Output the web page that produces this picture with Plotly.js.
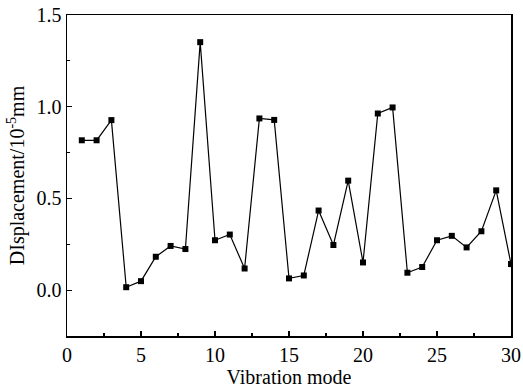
<!DOCTYPE html>
<html><head><meta charset="utf-8">
<script src="https://cdn.plot.ly/plotly-3.0.1.min.js"></script>
<style>
html,body{margin:0;padding:0;background:#fff;}
#chart{width:523px;height:389px;}
#chart .xtick text, #chart .ytick text{font-family:'Liberation Serif', serif !important;font-size:20px !important;fill:#000 !important;}
</style>
</head><body><div id="chart"></div>
<script>
const modes = [1,2,3,4,5,6,7,8,9,10,11,12,13,14,15,16,17,18,19,20,21,22,23,24,25,26,27,28,29,30];
const displacement = [0.817,0.817,0.927,0.016,0.049,0.182,0.241,0.224,1.352,0.272,0.303,0.118,0.936,0.928,0.064,0.080,0.434,0.246,0.597,0.151,0.963,0.996,0.095,0.126,0.272,0.296,0.233,0.321,0.544,0.142];
const xTickStep = 5;
const yTickStep = 0.5;
const serif = 'Liberation Serif';

Plotly.newPlot('chart', [{
  x: modes, y: displacement, type:'scatter', mode:'lines+markers',
  line:{color:'#000', width:1.2},
  marker:{symbol:'square', size:6, color:'#000'}
}], {
  width:523, height:389,
  margin:{l:67, r:12, t:15, b:53},
  paper_bgcolor:'#fff', plot_bgcolor:'#fff',
  showlegend:false,
  font: {family:serif, size:20, color:'#000'},
  xaxis:{
    range:[0,30], tick0:0, dtick:xTickStep, ticks:'inside', ticklen:5, tickwidth:1.2, tickcolor:'#000',
    showline:true, linecolor:'#000', linewidth:1.5, mirror:true, showgrid:false, zeroline:false,
    minor:{ticks:'inside', ticklen:3, dtick:2.5, tickcolor:'#000', tickwidth:1.2, showgrid:false},
    tickfont:{family:serif, size:20, color:'#000'},
    title:{text:'Vibration mode', font:{family:serif, size:20, color:'#000'}, standoff:0}
  },
  yaxis:{
    range:[-0.25,1.5], tick0:0, dtick:yTickStep, tickformat:'.1f', ticks:'inside', ticklen:5, tickwidth:1.2, tickcolor:'#000',
    showline:true, linecolor:'#000', linewidth:1.5, mirror:true, showgrid:false, zeroline:false,
    minor:{ticks:'inside', ticklen:3, dtick:0.25, tickcolor:'#000', tickwidth:1.2, showgrid:false},
    tickfont:{family:serif, size:20, color:'#000'},
    title:{text:'DIsplacement/10<sup>-5</sup>mm', font:{family:serif, size:20, color:'#000'}, standoff:6}
  }
}, {displayModeBar:false, staticPlot:true});
</script></body></html>
